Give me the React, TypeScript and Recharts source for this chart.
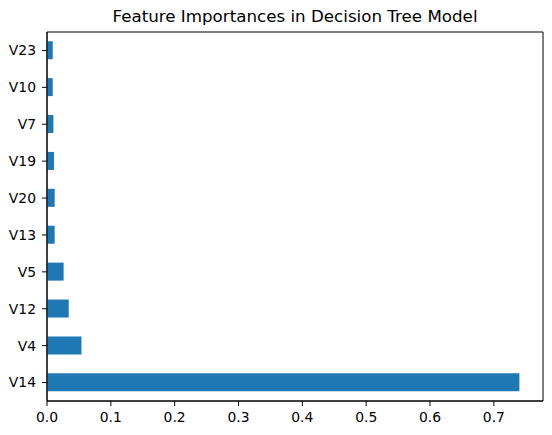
import React from 'react';
import { BarChart, Bar, XAxis, YAxis, ReferenceArea } from 'recharts';

// features from top to bottom as drawn
const features = ['V23', 'V10', 'V7', 'V19', 'V20', 'V13', 'V5', 'V12', 'V4', 'V14'];
const importances = [0.009, 0.009, 0.010, 0.011, 0.012, 0.012, 0.026, 0.034, 0.054, 0.740];
const xTicks = [0, 0.1, 0.2, 0.3, 0.4, 0.5, 0.6, 0.7];
const xMax = 0.777;

const data = features.map((name, i) => ({ name, value: importances[i] }));

const font = 'DejaVu Sans, sans-serif';
const tickStyle = { fill: '#000', fontSize: 13.9, fontFamily: font };

const App: React.FC = () => {
  return (
    <div style={{ position: 'absolute', left: 0, top: 0, width: 552, height: 435, background: '#fff' }}>
      <div
        style={{
          position: 'absolute',
          left: 47,
          width: 496,
          top: 6,
          textAlign: 'center',
          fontFamily: font,
          fontSize: 16.7,
          color: '#000',
        }}
      >
        Feature Importances in Decision Tree Model
      </div>
      <BarChart
        width={552}
        height={435}
        data={data}
        layout="vertical"
        margin={{ top: 32, right: 9, bottom: 0, left: 0 }}
        barCategoryGap="25%"
      >
        <XAxis
          type="number"
          domain={[0, xMax]}
          ticks={xTicks}
          tickFormatter={(v: number) => v.toFixed(1)}
          height={34}
          tick={tickStyle}
          tickSize={5}
          tickMargin={6}
          stroke="#000"
          allowDataOverflow
        />
        <YAxis
          type="category"
          dataKey="name"
          width={47}
          tick={tickStyle}
          tickSize={5}
          tickMargin={6}
          stroke="#000"
        />
        <Bar dataKey="value" fill="#1f77b4" isAnimationActive={false} />
        {/* frame around the plot area, like matplotlib spines */}
        <ReferenceArea x1={0} x2={xMax} fill="none" fillOpacity={0} stroke="#000" strokeWidth={1} ifOverflow="visible" />
      </BarChart>
    </div>
  );
};

export default App;
